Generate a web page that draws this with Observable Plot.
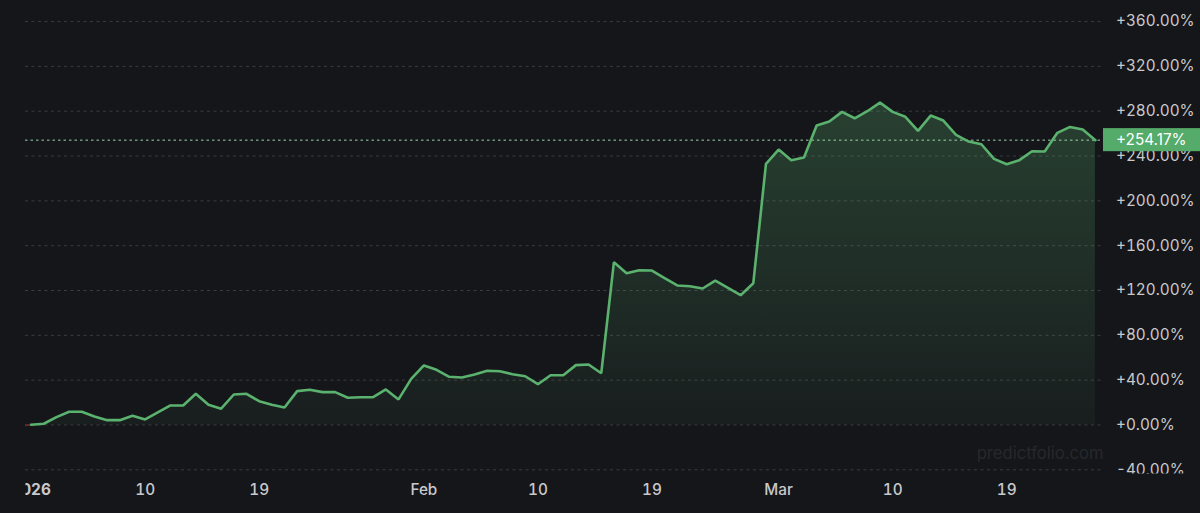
<!DOCTYPE html>
<html>
<head>
<meta charset="utf-8">
<script src="https://cdn.jsdelivr.net/npm/d3@7"></script>
<script src="https://cdn.jsdelivr.net/npm/@observablehq/plot@0.6"></script>
<style>
html,body{margin:0;padding:0;background:#15161a;overflow:hidden}
svg{display:block}
</style>
</head>
<body>
<div id="chart"></div>
<script>
const firstDate = "2025-12-31";
const returns = [
  -0.9, 0.2, 1.1, 7.0, 11.8, 11.8, 7.6, 4.3, 4.3, 8.2, 4.9, 11.2, 17.4, 17.4, 27.8, 18.0, 14.5, 27.2, 27.8, 21.2,
  18.0, 15.6, 30.2, 31.4, 29.3, 29.3, 24.3, 24.8, 24.8, 31.7, 22.8, 41.2, 53.1, 49.2, 43.0, 42.4, 45.1, 48.4, 48.0, 45.3,
  43.5, 36.4, 44.4, 44.4, 53.4, 54.0, 46.2, 145.3, 135.4, 138.1, 137.8, 131.0, 124.5, 123.8, 121.8, 128.9, 122.4, 115.8, 126.5, 233.0,
  245.8, 236.3, 238.7, 267.2, 270.8, 279.4, 273.7, 280.0, 287.7, 279.4, 275.0, 262.5, 276.1, 271.7, 258.9, 252.9, 250.5, 237.5, 232.7, 236.3,
  244.3, 244.0, 260.7, 266.0, 263.6, 254.17
];
const yTicks = [-40, 0, 40, 80, 120, 160, 200, 240, 280, 320, 360];
const xTickDates = ["2026-01-10", "2026-01-19", "2026-02-01", "2026-02-10", "2026-02-19", "2026-03-01", "2026-03-10", "2026-03-19"];
const xTickLabels = ["10", "19", "Feb", "10", "19", "Mar", "10", "19"];
const yearTickDate = "2026-01-01";
const yearTickLabel = "2026";
const lastValue = 254.17;
const watermark = "predictfolio.com";

const DAY = 864e5;
const t0 = new Date(firstDate + "T00:00:00Z");
const rows = returns.map((v, i) => ({date: new Date(+t0 + i * DAY), v}));
const lastDate = rows[rows.length - 1].date;
const parse = s => new Date(s + "T00:00:00Z");
const fmtY = v => (v < 0 ? "-" : "+") + Math.abs(v).toFixed(2) + "%";
const labelFor = new Map(xTickDates.map((d, i) => [+parse(d), xTickLabels[i]]));

const W = 1200, H = 513, ML = 25, MR = 97, MT = 0, MB = 40;
const GREEN = "#5ab26e";
const TXT = "#c9c9cb";
const FONT = "Inter, 'Liberation Sans', sans-serif";
const FS = 15.3;

const xDomain = [new Date(+t0 + 0.558 * DAY), new Date(+lastDate + 0.64 * DAY)];
const badgeEnd = new Date(+xDomain[1] + 7.7 * DAY);

const gradient = () => {
  const s = d3.create("svg:defs");
  const g = s.append("linearGradient").attr("id", "fillGrad")
    .attr("x1", 0).attr("x2", 0).attr("y1", 0).attr("y2", 1);
  g.append("stop").attr("offset", "0%").attr("stop-color", "#5ab26e").attr("stop-opacity", 0.27);
  g.append("stop").attr("offset", "100%").attr("stop-color", "#5ab26e").attr("stop-opacity", 0.05);
  return s.node();
};

const chart = Plot.plot({
  width: W, height: H,
  marginLeft: ML, marginRight: MR, marginTop: MT, marginBottom: MB,
  style: {background: "#15161a", fontFamily: FONT, overflow: "hidden"},
  x: {type: "utc", domain: xDomain},
  y: {domain: [-43.3, 378.8]},
  marks: [
    gradient,
    Plot.ruleY(yTicks, {stroke: "#3b3c40", strokeWidth: 1, strokeDasharray: "3 3.5"}),
    Plot.areaY(rows, {x: "date", y: "v", fill: "url(#fillGrad)", clip: true}),
    Plot.ruleY([lastValue], {stroke: "#9bd2a8", strokeWidth: 1, strokeDasharray: "2.5 3"}),
    Plot.line(rows.slice(0, 2), {x: "date", y: "v", stroke: "#5e2a2a", strokeWidth: 2, clip: true}),
    Plot.line(rows.slice(1), {x: "date", y: "v", stroke: GREEN, strokeWidth: 2.6, strokeLinejoin: "miter", clip: true}),
    Plot.text([watermark], {
      x: [xDomain[1]], y: [-25.4], text: d => d, textAnchor: "end",
      fill: "#27282c", fontSize: 16.6, fontFamily: FONT
    }),
    Plot.axisY({
      anchor: "right", ticks: yTicks, tickFormat: fmtY, tickSize: 0, tickPadding: 12.5,
      fontSize: FS, label: null, fill: TXT
    }),
    Plot.rect([lastValue], {
      x1: () => xDomain[1], x2: () => badgeEnd,
      y1: d => d - 10.3, y2: d => d + 10.3, fill: "#55ab69"
    }),
    Plot.text([lastValue], {
      x: () => xDomain[1], y: d => d, text: fmtY, dx: 12.5, textAnchor: "start",
      fill: "#ffffff", fontSize: FS, fontFamily: FONT
    }),
    Plot.axisX({
      anchor: "bottom", ticks: xTickDates.map(parse), tickFormat: d => labelFor.get(+d),
      tickSize: 0, tickPadding: 11, fontSize: FS, fill: TXT, label: null, fontWeight: 500
    }),
    Plot.axisX({
      anchor: "bottom", ticks: [parse(yearTickDate)], tickFormat: () => yearTickLabel,
      tickSize: 0, tickPadding: 11, fontSize: FS, fill: TXT, label: null, fontWeight: 700
    })
  ]
});

// The price labels stop at the pane's lower edge, and the year label at its left edge.
const svg = d3.select(chart);
const defs = svg.append("defs");
defs.append("clipPath").attr("id", "paneV").append("rect").attr("x", 0).attr("y", 0).attr("width", W).attr("height", H - MB);
defs.append("clipPath").attr("id", "paneH").append("rect").attr("x", ML).attr("y", 0).attr("width", W).attr("height", H);
svg.selectAll('[aria-label="y-axis tick label"]').attr("clip-path", "url(#paneV)");
svg.selectAll('[aria-label="x-axis tick label"]').attr("clip-path", "url(#paneH)");

document.getElementById("chart").append(chart);
</script>
</body>
</html>
